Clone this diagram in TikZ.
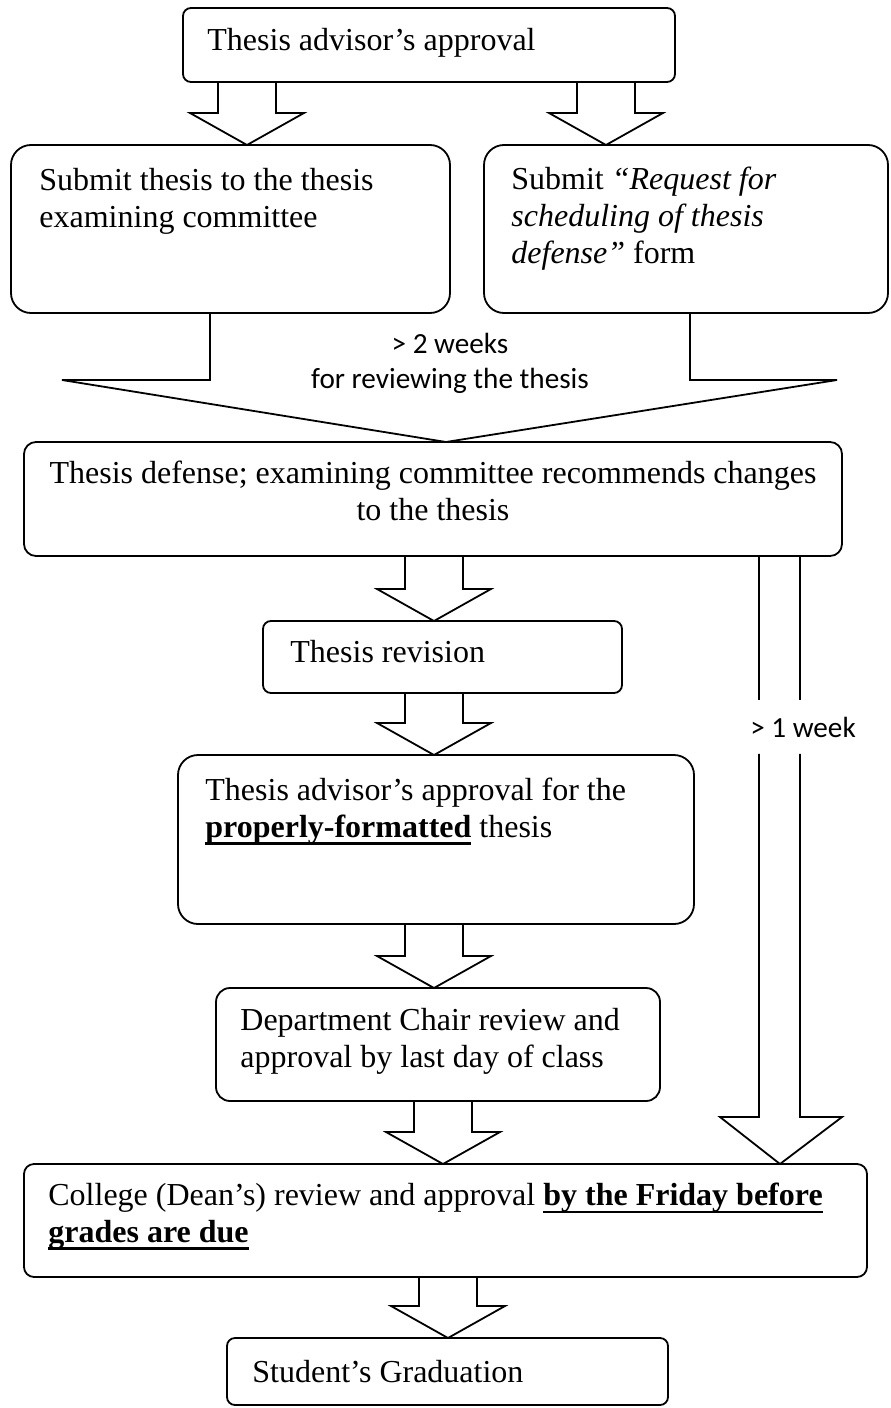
\documentclass[tikz,border=0pt]{standalone}
\usepackage{fontspec}
\setmainfont{Liberation Serif}
\newfontfamily\calibri{Carlito}
\newsavebox\ulbox
\newcommand{\thickul}[1]{\sbox\ulbox{#1}\rlap{\raisebox{-3.8pt}{\rule{\wd\ulbox}{1.1pt}}}\usebox\ulbox}
\usetikzlibrary{calc}

\begin{document}
\begin{tikzpicture}[x=0.5pt,y=-0.5pt,
  stepbox/.style={draw,line width=0.9pt,rounded corners=#1,inner sep=0pt,outer sep=0pt},
  stepbox/.default=5pt,
  txt/.style={inner sep=0pt,align=left,font=\fontsize{16}{18.3}\selectfont},
  weektxt/.style={inner sep=0pt,align=center,font=\calibri\fontsize{14.6}{17.5}\selectfont},
  fatline/.style={line width=0.9pt}]
      \useasboundingbox (0,0) rectangle (890,1408);
      % boxes
      \node [stepbox=4pt, minimum width=246pt, minimum height=37pt] (b1) at (429,45) {};
      \node [stepbox=10pt, minimum width=219.5pt, minimum height=84pt] (b2) at (230.5,229) {};
      \node [stepbox=10pt, minimum width=202pt, minimum height=84pt] (b3) at (686,229) {};
      \node [stepbox=6pt, minimum width=409pt, minimum height=57pt] (b4) at (433,499) {};
      \node [stepbox=4pt, minimum width=179.5pt, minimum height=36pt] (b5) at (442.5,657) {};
      \node [stepbox=10pt, minimum width=258pt, minimum height=84.5pt] (b6) at (436,839.5) {};
      \node [stepbox=7pt, minimum width=222pt, minimum height=56.5pt] (b7) at (438,1044.5) {};
      \node [stepbox=5pt, minimum width=421.5pt, minimum height=56.5pt] (b8) at (445.5,1220.5) {};
      \node [stepbox=4pt, minimum width=220.5pt, minimum height=33.5pt] (b9) at (447.5,1371.5) {};
      % texts (base = last line)
      \node [txt, anchor=base west] (t1) at (207,50) {Thesis advisor's approval};
      \node [txt, anchor=base west] (t2) at (39,227) {Submit thesis to the thesis\\examining committee};
      \node [txt, anchor=base west] (t3) at (511,263) {Submit \textit{``Request for}\\\textit{scheduling of thesis}\\\textit{defense''} form};
      \node [txt, anchor=base, align=center] (t4) at (433,520) {Thesis defense; examining committee recommends changes\\to the thesis};
      \node [txt, anchor=base west] (t5) at (290,662) {Thesis revision};
      \node [txt, anchor=base west] (t6) at (205,837) {Thesis advisor's approval for the\\\thickul{\textbf{properly-formatted}} thesis};
      \node [txt, anchor=base west] (t7) at (240,1067) {Department Chair review and\\approval by last day of class};
      \node [txt, anchor=base west] (t8) at (48,1242) {College (Dean's) review and approval \thickul{\textbf{by the Friday before}}\\\thickul{\textbf{grades are due}}};
      \node [txt, anchor=base west] (t9) at (252,1382) {Student's Graduation};
      \node [weektxt, anchor=base] (w2) at (450,388) {> 2 weeks\\for reviewing the thesis};
      \node [weektxt, minimum height=26.5pt] (w1) at (803,727) {> 1 week};
      % merging arrow
      \draw [fatline] (210,0 |- b2.south) -- (210,380) -- (62,380) -- (446,0 |- b4.north)
            -- (837,380) -- (690,380) -- (690,0 |- b3.south);
      \foreach \px/\src/\dst in {247/b1/b2,606/b1/b3,434/b4/b5,434/b5/b6,434/b6/b7,443/b7/b8,448/b8/b9}
       {\coordinate (tip) at (\px,0 |- \dst.north);
        \draw [fatline] (\px-29,0 |- \src.south) -- ($(tip)+(-29,-32)$) -- ++(-28,0) -- (tip)
              -- ++(57,-32) -- ++(-28,0) -- (\px+29,0 |- \src.south);}
      % long arrow
      \draw [fatline] (759,0 |- b4.south) -- (759,0 |- w1.north);
      \draw [fatline] (800,0 |- b4.south) -- (800,0 |- w1.north);
      \draw [fatline] (759,0 |- w1.south) -- (759,1117) -- (720,1117) -- (780,0 |- b8.north)
            -- (842,1117) -- (800,1117) -- (800,0 |- w1.south);
\end{tikzpicture}
\end{document}
